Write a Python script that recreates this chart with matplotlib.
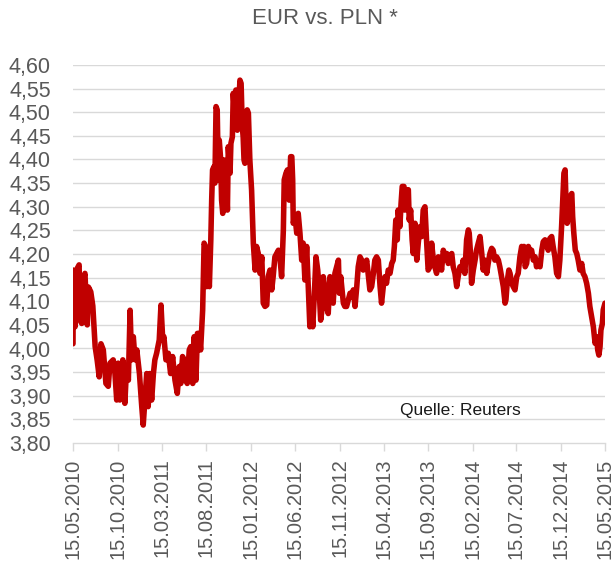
"""EUR vs. PLN exchange rate, May 2010 - May 2015 (Excel-style line chart)."""
import datetime as dt

import matplotlib
matplotlib.use("Agg")
import matplotlib.pyplot as plt
import matplotlib.dates as mdates
from matplotlib.ticker import FuncFormatter

# --- data ------------------------------------------------------------------
START = dt.date(2010, 5, 15)

# days after 15.05.2010
DAYS = [
    0, 1, 7, 15, 21, 24, 30, 35, 41, 49,
    53, 61, 68, 76, 83, 90, 96, 104, 113, 121,
    127, 138, 144, 150, 155, 161, 171, 178, 184, 190,
    196, 201, 207, 213, 219, 228, 236, 241, 247, 253,
    258, 264, 270, 276, 281, 287, 296, 302, 308, 312,
    319, 327, 335, 342, 350, 358, 365, 370, 376, 381,
    388, 392, 399, 404, 411, 416, 422, 427, 433, 438,
    442, 445, 450, 455, 459, 464, 468, 473, 476, 479,
    484, 487, 491, 495, 499, 502, 507, 510, 514, 518,
    522, 525, 530, 533, 539, 542, 547, 550, 556, 559,
    564, 567, 573, 577, 581, 584, 587, 590, 594, 598,
    602, 605, 607, 613, 619, 625, 630, 636, 642, 648,
    653, 659, 665, 670, 676, 682, 687, 693, 699, 705,
    710, 716, 722, 725, 731, 736, 742, 747, 751, 754,
    756, 762, 768, 773, 779, 785, 790, 796, 802, 808,
    813, 817, 823, 828, 834, 840, 845, 850, 856, 859,
    865, 871, 876, 882, 888, 893, 899, 905, 911, 914,
    919, 928, 933, 939, 945, 951, 956, 962, 968, 974,
    979, 985, 991, 996, 1002, 1008, 1013, 1019, 1025, 1031,
    1036, 1042, 1048, 1054, 1059, 1065, 1071, 1076, 1082, 1088,
    1094, 1099, 1103, 1108, 1113, 1116, 1122, 1126, 1130, 1136,
    1139, 1145, 1151, 1154, 1159, 1164, 1168, 1174, 1180, 1185,
    1191, 1197, 1202, 1208, 1214, 1219, 1225, 1231, 1237, 1242,
    1248, 1254, 1260, 1265, 1271, 1277, 1283, 1288, 1294, 1300,
    1305, 1311, 1317, 1322, 1328, 1334, 1339, 1345, 1351, 1357,
    1360, 1365, 1368, 1374, 1380, 1385, 1391, 1397, 1403, 1408,
    1414, 1420, 1425, 1431, 1437, 1442, 1448, 1454, 1460, 1465,
    1471, 1477, 1483, 1486, 1491, 1496, 1500, 1506, 1511, 1517,
    1523, 1528, 1534, 1540, 1545, 1548, 1552, 1557, 1563, 1568,
    1574, 1580, 1586, 1591, 1597, 1603, 1609, 1614, 1620, 1626,
    1631, 1637, 1643, 1648, 1654, 1660, 1666, 1671, 1677, 1681,
    1685, 1689, 1692, 1696, 1701, 1706, 1712, 1715, 1719, 1724,
    1729, 1734, 1740, 1746, 1751, 1757, 1763, 1769, 1774, 1780,
    1786, 1792, 1797, 1801, 1805, 1809, 1812, 1817, 1820, 1826,
]

EURPLN = [
    4.010, 4.166, 4.046, 4.170, 4.177, 4.060, 4.053, 4.145, 4.159, 4.050,
    4.130, 4.120, 4.090, 4.004, 3.975, 3.940, 4.010, 3.997, 3.926, 3.920,
    3.969, 3.976, 3.947, 3.891, 3.969, 3.891, 3.976, 3.884, 3.962, 3.933,
    4.081, 3.976, 4.025, 3.976, 3.997, 3.947, 3.877, 3.838, 3.891, 3.947,
    3.877, 3.947, 3.891, 3.947, 3.976, 3.990, 4.018, 4.092, 4.018, 4.025,
    3.976, 3.990, 3.947, 3.983, 3.933, 3.905, 3.962, 3.926, 3.983, 3.976,
    3.933, 3.926, 3.997, 4.004, 3.926, 4.025, 3.933, 4.032, 4.032, 3.997,
    4.046, 4.081, 4.223, 4.216, 4.131, 4.173, 4.131, 4.230, 4.314, 4.378,
    4.385, 4.350, 4.512, 4.505, 4.357, 4.441, 4.399, 4.314, 4.286, 4.399,
    4.328, 4.378, 4.293, 4.427, 4.371, 4.434, 4.448, 4.540, 4.484, 4.547,
    4.462, 4.498, 4.568, 4.561, 4.470, 4.448, 4.399, 4.392, 4.413, 4.505,
    4.498, 4.434, 4.399, 4.335, 4.222, 4.166, 4.216, 4.201, 4.159, 4.194,
    4.096, 4.089, 4.092, 4.152, 4.166, 4.124, 4.152, 4.194, 4.201, 4.208,
    4.194, 4.152, 4.251, 4.357, 4.371, 4.378, 4.314, 4.406, 4.406, 4.357,
    4.265, 4.279, 4.244, 4.286, 4.244, 4.187, 4.223, 4.145, 4.216, 4.124,
    4.046, 4.096, 4.046, 4.110, 4.194, 4.166, 4.124, 4.060, 4.088, 4.152,
    4.124, 4.088, 4.074, 4.152, 4.138, 4.096, 4.159, 4.173, 4.187, 4.117,
    4.152, 4.096, 4.089, 4.089, 4.103, 4.117, 4.110, 4.124, 4.089, 4.131,
    4.173, 4.194, 4.187, 4.166, 4.173, 4.187, 4.159, 4.124, 4.131, 4.159,
    4.187, 4.194, 4.187, 4.131, 4.096, 4.131, 4.152, 4.138, 4.166, 4.159,
    4.180, 4.187, 4.216, 4.272, 4.230, 4.293, 4.258, 4.307, 4.343, 4.343,
    4.293, 4.336, 4.336, 4.272, 4.293, 4.230, 4.201, 4.265, 4.187, 4.223,
    4.258, 4.237, 4.293, 4.300, 4.223, 4.166, 4.173, 4.223, 4.187, 4.173,
    4.159, 4.194, 4.187, 4.166, 4.208, 4.194, 4.201, 4.180, 4.194, 4.201,
    4.173, 4.159, 4.131, 4.152, 4.173, 4.166, 4.187, 4.159, 4.230, 4.251,
    4.244, 4.194, 4.138, 4.166, 4.187, 4.208, 4.223, 4.237, 4.201, 4.166,
    4.187, 4.159, 4.180, 4.201, 4.212, 4.208, 4.187, 4.194, 4.187, 4.173,
    4.152, 4.131, 4.096, 4.103, 4.145, 4.166, 4.159, 4.138, 4.131, 4.124,
    4.152, 4.159, 4.194, 4.216, 4.208, 4.216, 4.173, 4.180, 4.216, 4.201,
    4.208, 4.187, 4.194, 4.173, 4.180, 4.173, 4.208, 4.226, 4.230, 4.219,
    4.208, 4.233, 4.237, 4.216, 4.194, 4.159, 4.152, 4.187, 4.258, 4.314,
    4.371, 4.378, 4.314, 4.265, 4.279, 4.321, 4.328, 4.279, 4.244, 4.208,
    4.201, 4.187, 4.166, 4.180, 4.159, 4.152, 4.138, 4.117, 4.089, 4.067,
    4.046, 4.011, 4.025, 3.997, 3.986, 4.004, 4.039, 4.053, 4.082, 4.096,
]

TICK_DATES = [
    "2010-05-15", "2010-10-15", "2011-03-15", "2011-08-15", "2012-01-15",
    "2012-06-15", "2012-11-15", "2013-04-15", "2013-09-15", "2014-02-15",
    "2014-07-15", "2014-12-15", "2015-05-15",
]
Y_TICKS = [3.80, 3.85, 3.90, 3.95, 4.00, 4.05, 4.10, 4.15, 4.20,
           4.25, 4.30, 4.35, 4.40, 4.45, 4.50, 4.55, 4.60]

TITLE = "EUR vs. PLN *"
SOURCE = "Quelle: Reuters"

LINE_COLOR = "#C00000"
TEXT_COLOR = "#595959"
GRID_COLOR = "#D9D9D9"
NARROW = ["Liberation Sans Narrow", "Liberation Sans", "DejaVu Sans"]
REGULAR = ["Liberation Sans", "DejaVu Sans"]

assert len(DAYS) == len(EURPLN)


def main():
    dates = [START + dt.timedelta(days=d) for d in DAYS]
    ticks = [dt.date.fromisoformat(s) for s in TICK_DATES]

    fig = plt.figure(figsize=(6.15, 5.62), dpi=100)
    ax = fig.add_axes([73 / 615, 1 - 443 / 562, (605 - 73) / 615, (443 - 65) / 562])

    for y in Y_TICKS[1:]:
        ax.axhline(y, color=GRID_COLOR, linewidth=1.0, zorder=1)

    ax.plot(dates, EURPLN, color=LINE_COLOR, linewidth=4.0,
            solid_joinstyle="round", solid_capstyle="round", zorder=3)

    ax.set_xlim(ticks[0], ticks[-1])
    ax.set_ylim(3.80, 4.60)

    ax.set_yticks(Y_TICKS)
    ax.yaxis.set_major_formatter(FuncFormatter(lambda v, _: f"{v:.2f}".replace(".", ",")))
    ax.tick_params(axis="y", length=0, pad=16, labelsize=15.5, labelcolor=TEXT_COLOR)
    for lab in ax.get_yticklabels():
        lab.set_family(NARROW)

    ax.set_xticks(ticks)
    ax.xaxis.set_major_formatter(mdates.DateFormatter("%d.%m.%Y"))
    ax.tick_params(axis="x", length=6, width=1.0, color=GRID_COLOR,
                   pad=5, labelsize=14.5, labelcolor=TEXT_COLOR, labelrotation=90)
    for lab in ax.get_xticklabels():
        lab.set_family(REGULAR)

    for side in ("top", "right", "left"):
        ax.spines[side].set_visible(False)
    ax.spines["bottom"].set_color(GRID_COLOR)
    ax.spines["bottom"].set_linewidth(1.0)

    fig.text(325 / 615, 1 - 18 / 562, TITLE, ha="center", va="center",
             fontsize=16, color=TEXT_COLOR, family=NARROW)
    fig.text(460 / 615, 1 - 410 / 562, SOURCE, ha="center", va="center",
             fontsize=12.5, color="#1a1a1a", family=REGULAR)

    fig.savefig("out.png", dpi=100)


if __name__ == "__main__":
    main()
